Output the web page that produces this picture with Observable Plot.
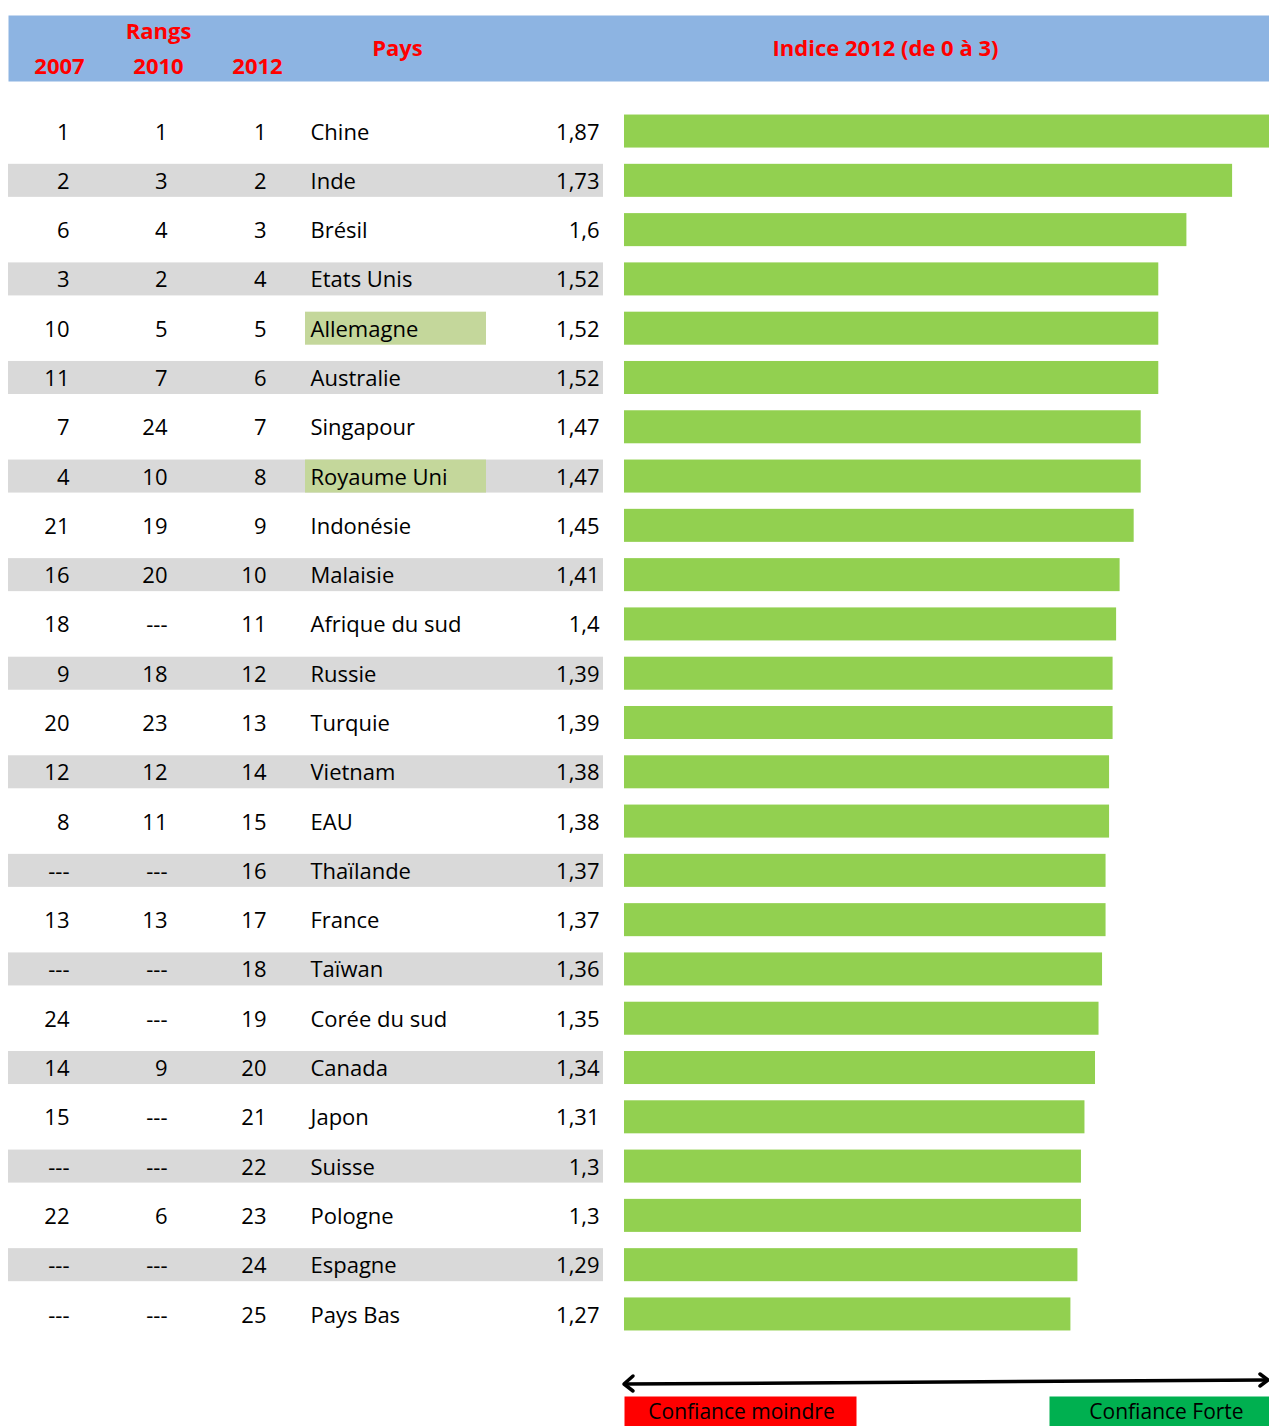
<!DOCTYPE html>
<html>
<head>
<meta charset="utf-8">
<script src="https://cdn.jsdelivr.net/npm/d3@7"></script>
<script src="https://cdn.jsdelivr.net/npm/@observablehq/plot@0.6"></script>
<style>
  html, body { margin: 0; padding: 0; background: #fff; overflow: hidden; }
  #chart svg { display: block; }
  .hdr text { font-stretch: 88%; }
</style>
</head>
<body>
<div id="chart"></div>
<script>
const countries = ["Chine","Inde","Brésil","Etats Unis","Allemagne","Australie","Singapour","Royaume Uni","Indonésie","Malaisie","Afrique du sud","Russie","Turquie","Vietnam","EAU","Thaïlande","France","Taïwan","Corée du sud","Canada","Japon","Suisse","Pologne","Espagne","Pays Bas"];
const rank2007 = ["1","2","6","3","10","11","7","4","21","16","18","9","20","12","8","---","13","---","24","14","15","---","22","---","---"];
const rank2010 = ["1","3","4","2","5","7","24","10","19","20","---","18","23","12","11","---","13","---","---","9","---","---","6","---","---"];
const rank2012 = ["1","2","3","4","5","6","7","8","9","10","11","12","13","14","15","16","17","18","19","20","21","22","23","24","25"];
const indice = [1.87,1.73,1.6,1.52,1.52,1.52,1.47,1.47,1.45,1.41,1.4,1.39,1.39,1.38,1.38,1.37,1.37,1.36,1.35,1.34,1.31,1.3,1.3,1.29,1.27];
const highlighted = ["Allemagne","Royaume Uni"];
const headerYears = ["2007","2010","2012"];
const headerRangs = "Rangs";
const headerPays = "Pays";
const headerIndice = "Indice 2012 (de 0 à 3)";
const legendLow = "Confiance moindre";
const legendHigh = "Confiance Forte";

const rows = countries.map((c, i) => ({
  country: c, r2007: rank2007[i], r2010: rank2010[i], r2012: rank2012[i],
  indice: indice[i], label: String(indice[i]).replace(".", ",")
}));
const shaded = rows.filter((d, i) => i % 2 === 1);
const hl = rows.filter(d => highlighted.includes(d.country));

const W = 1269, H = 1426;
const body = {fontFamily: "Open Sans", fontSize: 22, fill: "#000"};
const head = {fontFamily: "Open Sans", fontWeight: "bold", fontSize: 22, fill: "#FF0000", lineAnchor: "middle", className: "hdr"};
const yearX = [59, 158, 257];

function arrowMark(index, scales) {
  const x0 = scales.x(0) - 1, x1 = W - 1;
  const g = d3.create("svg:g").attr("stroke", "#000").attr("fill", "none")
    .attr("stroke-width", 3.5).attr("stroke-linecap", "round").attr("stroke-linejoin", "round");
  g.append("line").attr("x1", x0 + 2).attr("y1", 1384).attr("x2", x1 - 2).attr("y2", 1380);
  g.append("path").attr("d", `M${x0 + 10},${1376} L${x0 + 1},${1384} L${x0 + 10},${1391}`);
  g.append("path").attr("d", `M${x1 - 8},${1374} L${x1},${1380} L${x1 - 8},${1386}`);
  return g.node();
}

const plot = Plot.plot({
  width: W, height: H,
  marginTop: 0, marginBottom: 0, marginLeft: 0, marginRight: 0,
  style: {fontFamily: "Open Sans", background: "#fff"},
  x: {domain: [0, 645 / 351.5], range: [624, W], clamp: true, axis: null},
  y: {type: "band", domain: countries, range: [106.4, 1338.6], paddingInner: 0.33, paddingOuter: 0.165, round: false, axis: null},
  marks: [
    // header band
    Plot.frame({fill: "#8DB4E2", stroke: null, insetLeft: 8, insetTop: 15, insetBottom: H - 81}),
    Plot.text([headerRangs], {frameAnchor: "top-left", dx: 158, dy: 31, textAnchor: "middle", ...head}),
    ...headerYears.map((yr, i) => Plot.text([yr], {frameAnchor: "top-left", dx: yearX[i], dy: 66, textAnchor: "middle", ...head})),
    Plot.text([headerPays], {frameAnchor: "top-left", dx: 397, dy: 48, textAnchor: "middle", ...head}),
    Plot.text([headerIndice], {frameAnchor: "top-left", dx: 885, dy: 48, textAnchor: "middle", ...head}),
    // row shading
    Plot.cell(shaded, {y: "country", fill: "#D9D9D9", insetLeft: 8, insetRight: W - 603}),
    Plot.cell(hl, {y: "country", fill: "#C4D79B", insetLeft: 305, insetRight: W - 486}),
    // bars
    Plot.barX(rows, {x1: 0, x2: "indice", y: "country", fill: "#92D050"}),
    // table text
    Plot.text(rows, {y: "country", text: "r2007", frameAnchor: "left", dx: 69, dy: 1, textAnchor: "end", ...body}),
    Plot.text(rows, {y: "country", text: "r2010", frameAnchor: "left", dx: 167, dy: 1, textAnchor: "end", ...body}),
    Plot.text(rows, {y: "country", text: "r2012", frameAnchor: "left", dx: 266, dy: 1, textAnchor: "end", ...body}),
    Plot.text(rows, {y: "country", text: "country", frameAnchor: "left", dx: 310, dy: 1, textAnchor: "start", ...body}),
    Plot.text(rows, {y: "country", text: "label", frameAnchor: "left", dx: 599, dy: 1, textAnchor: "end", ...body}),
    // legend arrow
    arrowMark,
    Plot.frame({fill: "#FF0000", stroke: null, insetLeft: 624, insetRight: W - 856, insetTop: 1396}),
    Plot.frame({fill: "#00B050", stroke: null, insetLeft: 1049, insetRight: 0, insetTop: 1396}),
    Plot.text([legendLow], {frameAnchor: "top-left", dx: 741, dy: 1412, lineAnchor: "middle", textAnchor: "middle", fontFamily: "Open Sans", fontSize: 21, fill: "#000"}),
    Plot.text([legendHigh], {frameAnchor: "top-left", dx: 1166, dy: 1412, lineAnchor: "middle", textAnchor: "middle", fontFamily: "Open Sans", fontSize: 21, fill: "#000"})
  ]
});
document.getElementById("chart").appendChild(plot);
</script>
</body>
</html>
